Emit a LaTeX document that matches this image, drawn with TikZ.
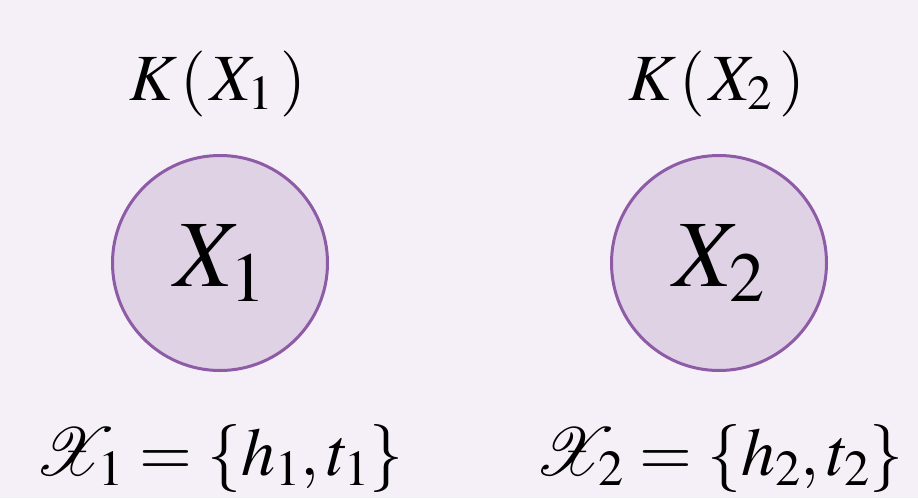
\documentclass[tikz,border=0pt]{standalone}
\usepackage{mathptmx}
\DeclareFontFamily{U}{rsfs}{\skewchar\font127 }
\DeclareFontShape{U}{rsfs}{m}{n}{<-> rsfs10}{}
\usepackage{mathrsfs}
\definecolor{bgc}{HTML}{F5F0F7}
\definecolor{fillc}{HTML}{DFD2E5}
\definecolor{linec}{HTML}{8E5BA6}
\tikzset{
  var/.style={circle, draw=linec, fill=fillc, line width=3pt, minimum size=215pt, inner sep=0pt, font=\fontsize{95}{100}\selectfont},
  lab/.style={inner sep=0pt, anchor=base, font=\fontsize{66}{70}\selectfont},
  dom/.style={inner sep=0pt, anchor=base, font=\fontsize{68}{72}\selectfont}
}
\begin{document}
\begin{tikzpicture}[x=1pt,y=-1pt]
\fill[bgc] (0,0) rectangle (918,498);
\useasboundingbox (0,0) rectangle (918,498);
\node[var] (x1) at (220,263) {$X_1$};
\node[var] (x2) at (719,263) {$X_2$};
\node[lab] (k1) at (218,100) {$K\mkern1mu(\mkern1mu X_1\mkern2mu)$};
\node[lab] (k2) at (717,100) {$K\mkern1mu(\mkern1mu X_2\mkern2mu)$};
\node[dom] (d1) at (219,475) {$\mathscr{X}_1=\{h_1,t_1\}$};
\node[dom] (d2) at (719,475) {$\mathscr{X}_2=\{h_2,t_2\}$};
\end{tikzpicture}
\end{document}
